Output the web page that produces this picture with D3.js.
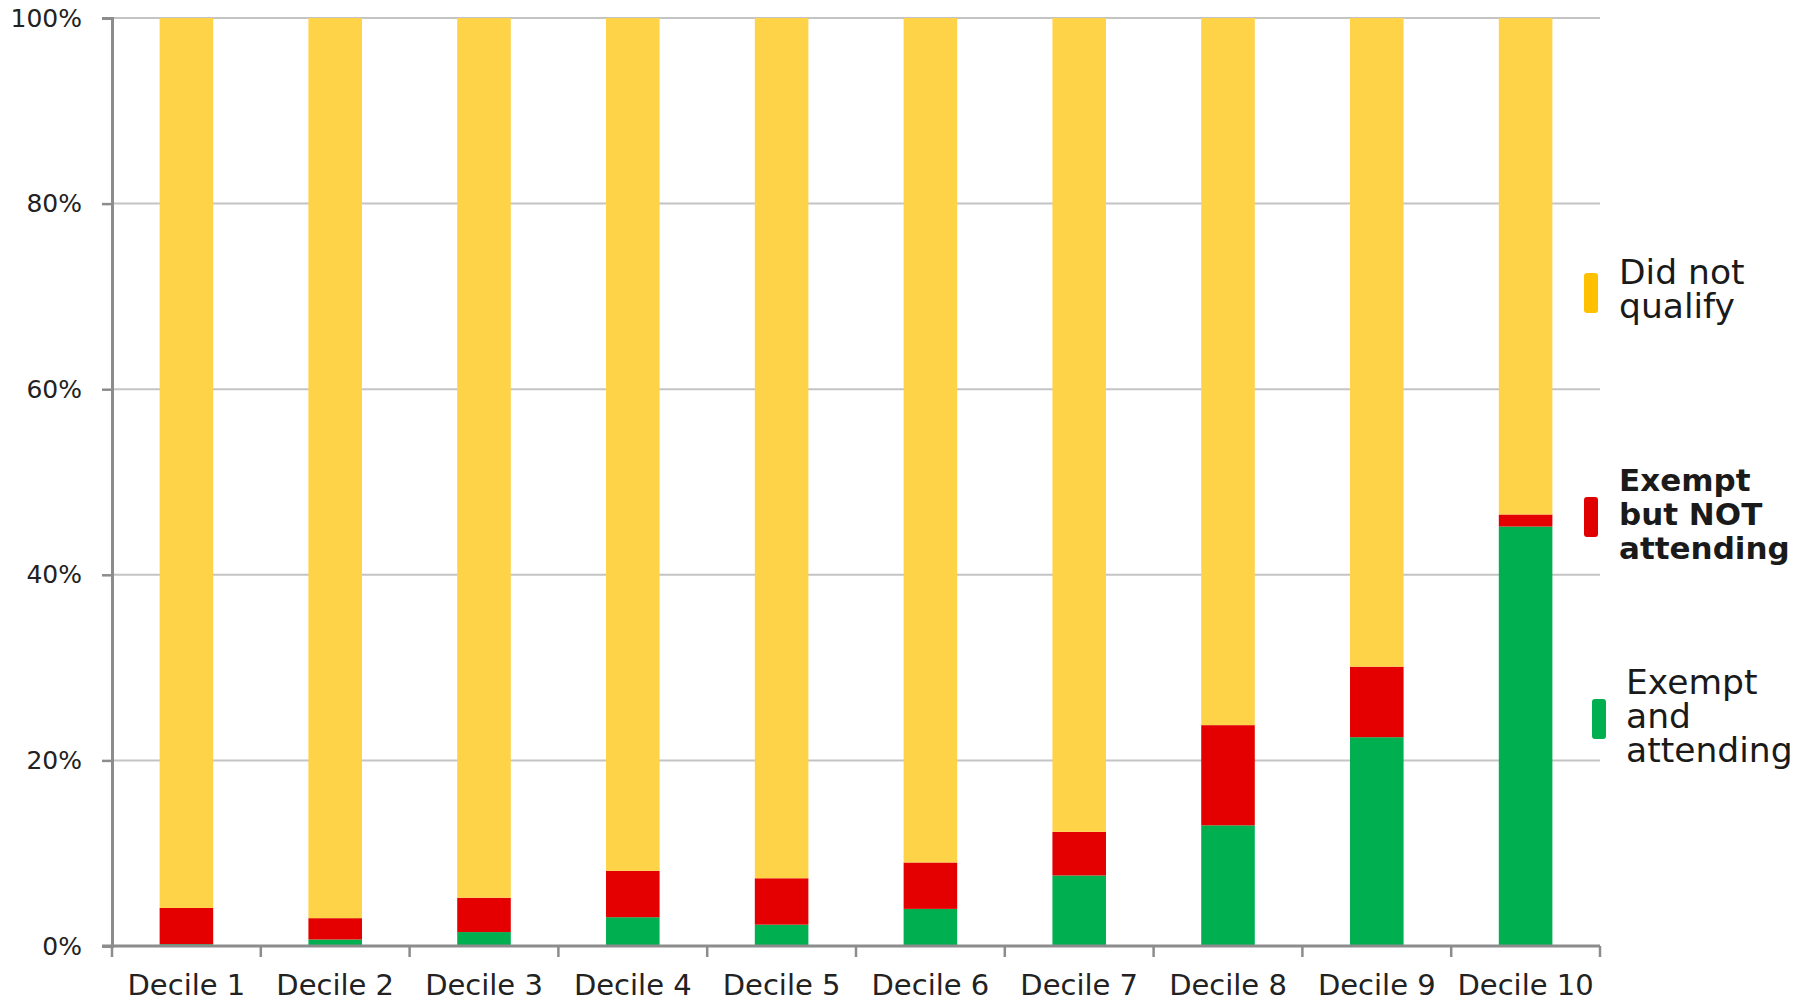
<!DOCTYPE html>
<html><head><meta charset="utf-8">
<script src="https://cdn.jsdelivr.net/npm/d3@7"></script>
<style>html,body{margin:0;padding:0;background:#fff;}svg{display:block;}</style>
</head><body>
<svg id="chart" width="1804" height="1003"></svg>
<script>
const categories = ["Decile 1","Decile 2","Decile 3","Decile 4","Decile 5","Decile 6","Decile 7","Decile 8","Decile 9","Decile 10"];
const exemptAttending = [0.2, 0.7, 1.5, 3.1, 2.3, 4.0, 7.6, 13.0, 22.5, 45.2];
const exemptNotAttending = [3.9, 2.3, 3.7, 5.0, 5.0, 5.0, 4.7, 10.8, 7.6, 1.3];
const didNotQualify = categories.map((c,i) => +(100 - exemptAttending[i] - exemptNotAttending[i]).toFixed(1));
const yTicks = [0, 20, 40, 60, 80, 100];
const seriesNames = ["Exempt and attending", "Exempt but NOT attending", "Did not qualify"];

(function(){
const rows = categories.map((c,i) => ({cat:c, a:exemptAttending[i], b:exemptNotAttending[i], c:didNotQualify[i]}));
const stack = d3.stack().keys(["a","b","c"])(rows);

const svg = d3.select("#chart");
const mLeft = 112, mRight = 1600, mTop = 18, mBottom = 946;
const x = d3.scaleBand().domain(categories).range([mLeft, mRight]).paddingInner(0.64).paddingOuter(0.32);
const y = d3.scaleLinear().domain([0, 100]).range([mBottom, mTop]);
const barColors = ["#00AF50", "#E40000", "#FFD348"];
const swatchColors = ["#00B050", "#E00000", "#FFC000"];

// gridlines
svg.append("g").selectAll("line").data(yTicks.filter(t => t > 0)).join("line")
  .attr("x1", mLeft).attr("x2", mRight)
  .attr("y1", d => y(d)).attr("y2", d => y(d))
  .attr("stroke", "#c4c4c4").attr("stroke-width", 2);

// bars
svg.append("g").selectAll("g").data(stack).join("g")
  .attr("fill", (d,i) => barColors[i])
  .selectAll("rect").data(d => d).join("rect")
  .attr("x", d => x(d.data.cat))
  .attr("width", x.bandwidth())
  .attr("y", d => y(d[1]))
  .attr("height", d => y(d[0]) - y(d[1]));

// y axis
const yAxis = d3.axisLeft(y).tickValues(yTicks).tickFormat(d => d + "%").tickSize(10).tickPadding(20);
const gy = svg.append("g").attr("transform", `translate(${mLeft},0)`).call(yAxis);
gy.select(".domain").attr("stroke", "#8c8c8c").attr("stroke-width", 3);
gy.selectAll(".tick line").attr("stroke", "#8c8c8c").attr("stroke-width", 2.5);
gy.selectAll("text").attr("font-family", "DejaVu Sans").attr("font-size", 25).attr("fill", "#222");

// x axis with ticks at band boundaries
const step = x.step();
const boundaries = categories.map(c => x(c) - step*0.32).concat([mRight]);
const gx = svg.append("g");
gx.append("line").attr("x1", mLeft - 10).attr("x2", mRight).attr("y1", mBottom).attr("y2", mBottom)
  .attr("stroke", "#8c8c8c").attr("stroke-width", 3);
gx.selectAll(".tk").data(boundaries).join("line").attr("class","tk")
  .attr("x1", d => d).attr("x2", d => d).attr("y1", mBottom).attr("y2", mBottom + 11)
  .attr("stroke", "#8c8c8c").attr("stroke-width", 2.5);
gx.selectAll("text").data(categories).join("text")
  .attr("x", d => x(d) + x.bandwidth()/2).attr("y", 995)
  .attr("text-anchor", "middle")
  .attr("font-family", "DejaVu Sans").attr("font-size", 29).attr("fill", "#222")
  .text(d => d);

// legend
const legendItems = [
  {name: seriesNames[2], lines: ["Did not", "qualify"], color: swatchColors[2], sx: 1584, sy: 273, tx: 1619, ty: 284, bold: false},
  {name: seriesNames[1], lines: ["Exempt", "but NOT", "attending"], color: swatchColors[1], sx: 1584, sy: 497, tx: 1619, ty: 491, bold: true},
  {name: seriesNames[0], lines: ["Exempt", "and", "attending"], color: swatchColors[0], sx: 1592, sy: 699, tx: 1626, ty: 694, bold: false}
];
const lg = svg.append("g").selectAll("g").data(legendItems).join("g");
lg.append("rect").attr("x", d => d.sx).attr("y", d => d.sy).attr("width", 14).attr("height", 40)
  .attr("rx", 3).attr("fill", d => d.color);
lg.each(function(d){
  const t = d3.select(this).append("text")
    .attr("font-family", "DejaVu Sans")
    .attr("font-size", d.bold ? 31 : 34.5)
    .attr("font-weight", d.bold ? "bold" : "normal")
    .attr("fill", "#1a1a1a");
  d.lines.forEach((l, i) => t.append("tspan").attr("x", d.tx).attr("y", d.ty + i*34).text(l));
});
})();
</script>
</body></html>
